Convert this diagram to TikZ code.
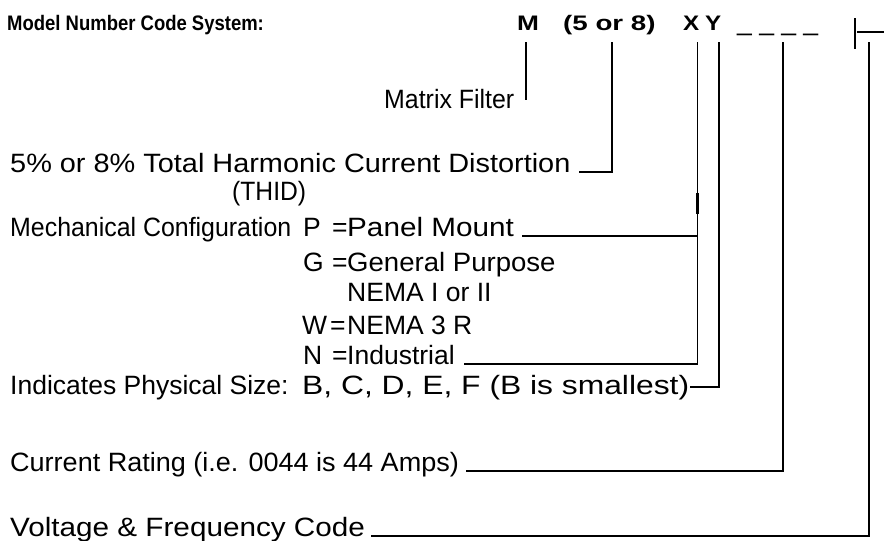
\documentclass[tikz,border=0pt]{standalone}
\usepackage{fontspec}
\usepackage{graphicx}
\setmainfont{Liberation Sans}
\newcommand{\sx}[2]{\scalebox{#1}[1]{#2}}
\begin{document}
\begin{tikzpicture}[x=1pt,y=-1pt,
  lbl/.style={anchor=base west, inner sep=0pt, font=\fontsize{26.5}{30}\selectfont},
  hdr/.style={anchor=base west, inner sep=0pt, font=\fontsize{21}{24}\selectfont\bfseries},
  conn/.style={line width=1.4pt, black}]
\useasboundingbox (0,0) rectangle (884,541);
% header
\node[hdr] (title) at (7,30) {\sx{0.88}{Model Number Code System:}};
\node[hdr] (m) at (517,30) {\sx{1.25}{M}};
\node[hdr] (fe) at (563,30) {\sx{1.32}{(5 or 8)}};
\node[hdr] (xl) at (683,30) {\sx{1.15}{X}};
\node[hdr] (yl) at (705,30) {\sx{1.15}{Y}};
\node[lbl] (dash) at (737,30) {\_ \_ \_ \_};
\coordinate (barT) at (855,18); \coordinate (barB) at (855,49);
\coordinate (usL) at (857,32); \coordinate (usR) at (884,32);
\draw[conn] (barT) -- (barB);
\draw[conn] (usL) -- (usR);
% labels
\node[lbl] (matrix) at (384,108) {\sx{0.94}{Matrix Filter}};
\node[lbl] (thd) at (10,172) {\sx{1.09}{5\% or 8\% Total Harmonic Current Distortion}};
\node[lbl] (thid) at (232,200) {\sx{0.93}{(THID)}};
\node[lbl] (mech) at (10,236) {\sx{0.94}{Mechanical Configuration}};
\node[lbl] (pk) at (303,236) {P};
\node[lbl] (pe) at (332,236) {=};
\node[lbl] (pv) at (347,236) {\sx{1.12}{Panel Mount}};
\node[lbl] (gk) at (303,271) {G};
\node[lbl] (ge) at (332,271) {=};
\node[lbl] (gv) at (347,271) {\sx{1.04}{General Purpose}};
\node[lbl] (gv2) at (347,301) {NEMA I or II};
\node[lbl] (wk) at (302,334) {W};
\node[lbl] (we) at (330,334) {=};
\node[lbl] (wv) at (347,334) {NEMA 3 R};
\node[lbl] (nk) at (303,364) {N};
\node[lbl] (ne) at (332,364) {=};
\node[lbl] (nv) at (347,364) {Industrial};
\node[lbl] (size) at (10,394) {Indicates Physical Size:};
\node[lbl] (sizev) at (302,394) {\sx{1.2}{B, C, D, E, F (B is smallest)}};
\node[lbl] (cur) at (10,471) {\sx{1.02}{Current Rating (i.e. 0044 is 44 Amps)}};
\node[lbl] (volt) at (10,536) {\sx{1.12}{Voltage \& Frequency Code}};
% connectors
\coordinate (mTop) at (526,42); \coordinate (mEnd) at (526,100);
\draw[conn] (mTop) -- (mEnd);
\coordinate (fTop) at (612,42);
\draw[conn] (fTop) |- ([xshift=8pt]thd.base east);
\coordinate (xTop) at (697.5,42);
\draw[conn] (xTop) |- ([xshift=9pt]nv.base east);
\draw[conn] ([xshift=8pt]pv.base east) -- (xTop |- pv.base);
\coordinate (xkT) at (697.5,193); \coordinate (xkB) at (697.5,214);
\draw[line width=2.6pt] (xkT) -- (xkB);
\coordinate (yTop) at (719,42);
\draw[conn] (yTop) |- ([xshift=1pt]sizev.east);
\coordinate (cTop) at (783,42);
\draw[conn] (cTop) |- ([xshift=7pt]cur.base east);
\coordinate (vTop) at (869,42);
\draw[conn] (vTop) |- ([xshift=6pt]volt.base east);
\end{tikzpicture}
\end{document}
